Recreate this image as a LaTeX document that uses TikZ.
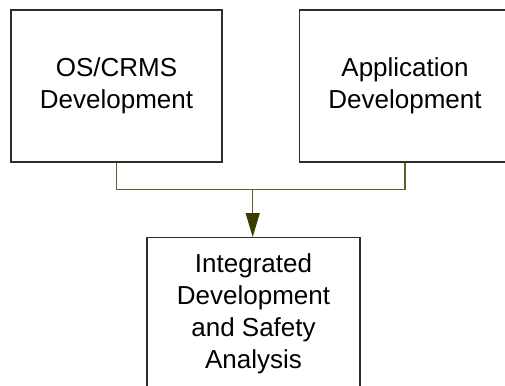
\documentclass[tikz,border=0pt]{standalone}
\usepackage{fontspec}
\setmainfont{Liberation Sans}
\usetikzlibrary{arrows.meta}
\definecolor{boxline}{RGB}{45,45,45}
\definecolor{olivewire}{RGB}{95,95,45}
\definecolor{olivetip}{RGB}{60,60,0}
\tikzset{x=1pt, y=1pt,
  devbox/.style={draw=boxline, line width=1.4pt, minimum width=211pt, minimum height=152pt,
    align=center, font=\fontsize{26}{32}\selectfont, inner sep=0pt},
  wire/.style={draw=olivewire, line width=1.4pt},
  wirearrow/.style={wire, -{Triangle[length=24pt, width=14pt, fill=olivetip, color=olivetip]}}}

\begin{document}
\begin{tikzpicture}
\useasboundingbox (0,0) rectangle (505,-385);
\clip (0,0) rectangle (505,-385);
% the three boxes
\node[devbox] (os) at (116.5,-86) {OS/CRMS\\Development};
\node[devbox] (app) at (405,-86) {Application\\Development};
\node[devbox, minimum width=213pt] (integ) at (253.5,-313.7) {Integrated\\Development\\and Safety\\Analysis};
% joining wire
\coordinate (join) at (252.7,-189.5);
\draw[wire] (os.south) |- (join) -| (app.south);
\draw[wirearrow] (join) -- (join |- integ.north);
\end{tikzpicture}
\end{document}
